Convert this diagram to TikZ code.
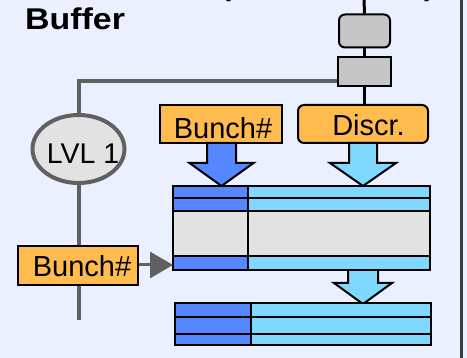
\documentclass[tikz,border=0pt]{standalone}
\usepackage{fontspec}
\setmainfont{Liberation Sans}
\usetikzlibrary{arrows.meta,shapes.geometric}

\definecolor{pagebg}{HTML}{EAF0FF}
\definecolor{framegray}{HTML}{3C3C3C}
\definecolor{wiregray}{HTML}{606060}
\definecolor{boxgray}{HTML}{C6C6C6}
\definecolor{cellgray}{HTML}{E2E2E2}
\definecolor{tagorange}{HTML}{FFBB4E}
\definecolor{bxblue}{HTML}{5588FF}
\definecolor{bxcyan}{HTML}{80D8FF}

% downward block arrow: centre x, shaft half width, head half width,
% shaft top, head base, tip, fill colour
\newcommand{\downblock}[7]{%
  \filldraw[fill=#7, draw=black, line width=2pt, line join=miter]
    ({#1-#2},#4) -- ({#1+#2},#4) -- ({#1+#2},#5) -- ({#1+#3},#5)
    -- (#1,#6) -- ({#1-#3},#5) -- ({#1-#2},#5) -- cycle;}

\begin{document}
\begin{tikzpicture}[x=1pt, y=-1pt,
  tagbox/.style={draw=black, line width=2pt, fill=tagorange, inner sep=0pt},
  pipebox/.style={draw=black, line width=2pt, fill=boxgray, inner sep=0pt},
  tagtext/.style={anchor=base, inner sep=0pt, font=\fontsize{29}{31}\selectfont},
  headtext/.style={anchor=base west, inner sep=0pt, font=\bfseries\fontsize{30}{32}\selectfont},
  wire/.style={draw=wiregray, line width=4pt},
  pipe/.style={draw=black, line width=3pt},
  cellline/.style={draw=black, line width=2pt}]

\useasboundingbox (0,0) rectangle (467,358);
\fill[pagebg] (0,0) rectangle (467,358);
\draw[framegray, line width=3pt] (461.5,0) -- (461.5,358);

% heading (upper line runs off the top edge)
\node[headtext] (heading) at (25,30) {\scalebox{1.13}[1]{Buffer}};
\node[headtext] (lparen) at (221,-4) {(};
\node[headtext] (rparen) at (424,-4) {)};

% pipeline elements on the right
\coordinate (pipetop) at (364,0);
\node[pipebox, rounded corners=6pt, minimum width=51pt, minimum height=33pt] (stageA) at (364.5,31) {};
\node[pipebox, minimum width=53pt, minimum height=29pt] (stageB) at (364.5,71.5) {};
\node[tagbox, rounded corners=6pt, minimum width=130pt, minimum height=38pt] (discr) at (363,124) {};
\node[tagtext] (discrtxt) at (368.5,136) {Discr.};
\draw[pipe] (pipetop) -- (stageA.north);
\draw[pipe] (stageA.south) -- (stageB.north);
\draw[pipe] (stageB.south) -- (discr.north -| stageB.south);

% bunch counter tag above the buffer
\node[tagbox, minimum width=122pt, minimum height=38pt] (bunchA) at (221,124) {};
\node[tagtext] (bunchAtxt) at (223,139) {Bunch\#};

% level-1 trigger path
\node[draw=wiregray, line width=4pt, fill=cellgray, ellipse, minimum width=92pt, minimum height=68pt, inner sep=0pt] (lvl) at (78.5,149) {};
\node[anchor=base, inner sep=0pt, font=\fontsize{28.5}{30}\selectfont] (lvltxt) at (83,164) {LVL 1};
\node[tagbox, minimum width=120pt, minimum height=39pt] (bunchB) at (78,265.5) {};
\node[tagtext] (bunchBtxt) at (82,277) {Bunch\#};
\coordinate (tap) at ([yshift=-9.5pt]stageB.west);
\coordinate (wireend) at (78.5,320);
\draw[wire] (tap) -| (lvl.north);
\draw[wire] (lvl.south) -- (bunchB.north -| lvl.south);
\draw[wire] (bunchB.south -| lvl.south) -- (wireend);

% block arrows into and out of the buffer
\downblock{221.5}{14.5}{32}{143}{163}{186}{bxblue}
\downblock{363}{14}{33}{143}{163}{186}{bxcyan}
\downblock{363}{15}{29}{270}{283}{304}{bxcyan}

% pipeline buffer
\coordinate (bufNW) at (173,186);
\coordinate (bufSE) at (430,270);
\fill[bxblue] (173,186) rectangle (248,211);
\fill[bxcyan] (248,186) rectangle (430,211);
\fill[cellgray] (173,211) rectangle (430,256);
\fill[bxblue] (173,256) rectangle (248,270);
\fill[bxcyan] (248,256) rectangle (430,270);
\draw[cellline] (bufNW) rectangle (bufSE);
\draw[cellline] (173,198) -- (430,198);
\draw[cellline] (173,211) -- (430,211);
\draw[cellline] (173,256) -- (430,256);
\draw[cellline] (248,186) -- (248,270);

% read-out register
\coordinate (outNW) at (175,303);
\coordinate (outSE) at (431,345);
\fill[bxblue] (175,303) rectangle (251,345);
\fill[bxcyan] (251,303) rectangle (431,345);
\draw[cellline] (outNW) rectangle (outSE);
\draw[cellline] (175,317) -- (431,317);
\draw[cellline] (175,334) -- (431,334);
\draw[cellline] (251,303) -- (251,345);

% bunch number written into the last row
\coordinate (lastrow) at (173,265);
\draw[draw=wiregray, line width=3pt, -{Triangle[length=23pt,width=26pt]}] (bunchB.east |- lastrow) -- (lastrow);
\end{tikzpicture}
\end{document}
